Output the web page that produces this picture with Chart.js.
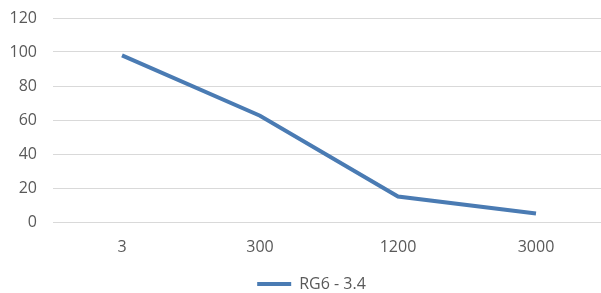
<!DOCTYPE html>
<html>
<head>
<meta charset="utf-8">
<script src="https://cdn.jsdelivr.net/npm/chart.js@4"></script>
<style>
  html, body { margin: 0; padding: 0; background: #fff; overflow: hidden; }
  #wrap { width: 601px; height: 293px; overflow: hidden; }
</style>
</head>
<body>
<div id="wrap"><canvas id="chart" width="605" height="302"></canvas></div>
<script>
const categories = ['3', '300', '1200', '3000'];
const seriesName = 'RG6 - 3.4';
const seriesValues = [98, 62.5, 15, 5];
const yTicks = { min: 0, max: 120, step: 20 };

const textColor = '#595959';
const lineColor = '#4a7bb3';
const font = { family: 'Open Sans', size: 16 };

// nudge the legend a bit to the right, like the original
const legendShift = {
    id: 'legendShift',
    afterLayout(chart) {
        chart.legend.left += 9;
        chart.legend.right += 9;
    }
};

new Chart(document.getElementById('chart').getContext('2d'), {
    type: 'line',
    data: {
        labels: categories,
        datasets: [{
            label: seriesName,
            data: seriesValues,
            borderColor: lineColor,
            backgroundColor: lineColor,
            borderWidth: 4,
            pointRadius: 0,
            tension: 0,
            fill: false
        }]
    },
    options: {
        responsive: false,
        animation: false,
        layout: { padding: { top: 18, left: 0, right: 0, bottom: 0 } },
        scales: {
            x: {
                offset: true,
                grid: { display: false },
                border: { display: false },
                ticks: { color: textColor, padding: 8, font },
                afterFit: s => { s.height = 54; }
            },
            y: {
                min: yTicks.min,
                max: yTicks.max,
                grid: { color: '#d9d9d9', lineWidth: 1, drawTicks: false },
                border: { display: false },
                ticks: { stepSize: yTicks.step, color: textColor, padding: 16, font },
                afterFit: s => { s.width = 53; s.paddingTop = 0; s.paddingBottom = 0; }
            }
        },
        plugins: {
            legend: {
                position: 'bottom',
                labels: {
                    color: textColor,
                    boxWidth: 34,
                    boxHeight: 4,
                    padding: 0,
                    font,
                    // flat bar for the legend swatch, no outline
                    generateLabels: chart => Chart.defaults.plugins.legend.labels.generateLabels(chart)
                        .map(item => ({ ...item, lineWidth: 0 }))
                }
            },
            tooltip: { enabled: false }
        }
    },
    plugins: [legendShift]
});
</script>
</body>
</html>
